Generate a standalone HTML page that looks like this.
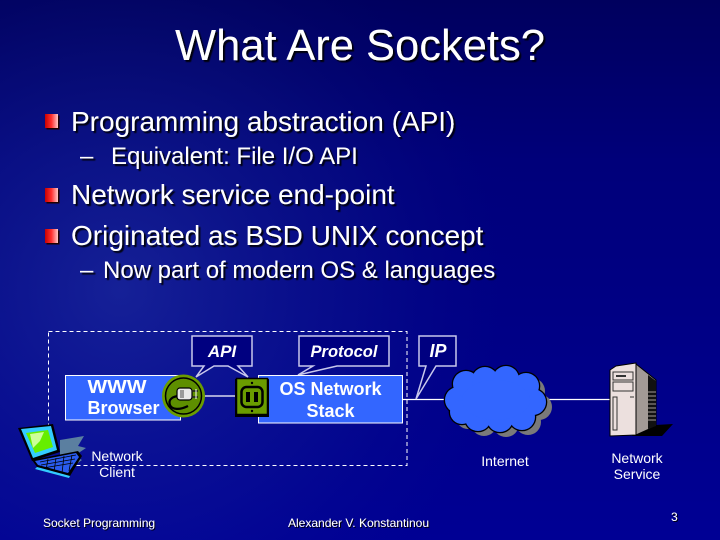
<!DOCTYPE html>
<html><head><meta charset="utf-8"><style>
html,body{margin:0;padding:0;width:720px;height:540px;overflow:hidden;background:#000080}
svg{display:block}
text{font-family:"Liberation Sans",Arial,sans-serif}
</style></head><body>
<svg width="720" height="540" viewBox="0 0 720 540" xmlns="http://www.w3.org/2000/svg">
<defs>
  <linearGradient id="bg" x1="0" y1="0" x2="0" y2="1">
    <stop offset="0" stop-color="#00005e"/>
    <stop offset="0.3" stop-color="#00007a"/>
    <stop offset="1" stop-color="#000094"/>
  </linearGradient>
  <radialGradient id="glow" cx="120" cy="290" r="420" gradientUnits="userSpaceOnUse">
    <stop offset="0" stop-color="#3048b0" stop-opacity="0.45"/>
    <stop offset="0.6" stop-color="#2038a0" stop-opacity="0.15"/>
    <stop offset="1" stop-color="#000080" stop-opacity="0"/>
  </radialGradient>
  <linearGradient id="bul" x1="0" y1="0" x2="1" y2="0">
    <stop offset="0" stop-color="#c80000"/>
    <stop offset="0.5" stop-color="#ff3030"/>
    <stop offset="1" stop-color="#ffc8c8"/>
  </linearGradient>
  <filter id="sh" x="-5%" y="-20%" width="110%" height="140%">
    <feDropShadow dx="2" dy="2" stdDeviation="0.4" flood-color="#000" flood-opacity="0.9"/>
  </filter>
  <filter id="sh1" x="-5%" y="-20%" width="110%" height="140%">
    <feDropShadow dx="1" dy="1" stdDeviation="0" flood-color="#000" flood-opacity="0.9"/>
  </filter>
</defs>

<rect width="720" height="540" fill="url(#bg)"/>
<rect width="720" height="540" fill="url(#glow)"/>

<!-- Title -->
<text x="360" y="60" font-size="43.5" fill="#fff" text-anchor="middle" filter="url(#sh)">What Are Sockets?</text>

<!-- Bullets -->
<g fill="#200000">
  <rect x="46.5" y="115.5" width="13" height="14"/>
  <rect x="46.5" y="189.5" width="13" height="14"/>
  <rect x="46.5" y="230.5" width="13" height="14"/>
</g>
<g fill="url(#bul)">
  <rect x="45" y="114" width="13" height="14"/>
  <rect x="45" y="188" width="13" height="14"/>
  <rect x="45" y="229" width="13" height="14"/>
</g>
<g fill="#fff" filter="url(#sh)">
  <text x="71" y="131" font-size="28">Programming abstraction (API)</text>
  <text x="80" y="164" font-size="24">–</text>
  <text x="111" y="164" font-size="24">Equivalent: File I/O API</text>
  <text x="71" y="204" font-size="28">Network service end-point</text>
  <text x="71" y="245" font-size="28">Originated as BSD UNIX concept</text>
  <text x="80" y="278" font-size="24">–</text>
  <text x="103" y="278" font-size="24">Now part of modern OS &amp; languages</text>
</g>

<!-- Dashed client box -->
<rect x="48.5" y="331.5" width="358.5" height="134" fill="none" stroke="#fff" stroke-width="1" stroke-dasharray="4 3"/>

<!-- Connector lines -->
<g stroke="#fff" stroke-width="1.2">
  <line x1="203" y1="396" x2="235" y2="396"/>
  <line x1="403" y1="399.5" x2="447" y2="399.5"/>
  <line x1="545" y1="399.5" x2="612" y2="399.5"/>
</g>

<!-- Callouts -->
<g fill="#000080" stroke="#c8c8ec" stroke-width="1.5" stroke-linejoin="miter">
  <path d="M192,336 H252 V366 H238 L248,377 L228,366 H214 L196,377 L204,366 H192 Z"/>
  <path d="M299,336 H389 V366 H337 L298,375 L313,366 H299 Z"/>
  <path d="M419,336 H456 V366 H436 L416,399 L426,366 H419 Z"/>
</g>
<g fill="#fff" font-weight="bold" font-style="italic" text-anchor="middle">
  <text x="222" y="357" font-size="17">API</text>
  <text x="344" y="357" font-size="16.5">Protocol</text>
  <text x="438" y="357" font-size="18">IP</text>
</g>

<!-- WWW Browser box -->
<rect x="65.5" y="375.5" width="115" height="44.5" fill="#3366ff" stroke="#fff" stroke-width="1"/>
<g fill="#fff" font-weight="bold" text-anchor="middle" font-size="18">
  <text x="117" y="393" textLength="59" lengthAdjust="spacingAndGlyphs">WWW</text>
  <text x="123.5" y="414">Browser</text>
</g>

<!-- OS Network Stack box -->
<rect x="258.5" y="375.5" width="144" height="47.5" fill="#3366ff" stroke="#fff" stroke-width="1"/>
<g fill="#fff" font-weight="bold" text-anchor="middle" font-size="18">
  <text x="330.5" y="395">OS Network</text>
  <text x="330.5" y="417">Stack</text>
</g>

<!-- Plug -->
<circle cx="183.5" cy="396" r="21.5" fill="#6a9c00"/>
<circle cx="183.5" cy="396" r="18" fill="#5e8f00" stroke="#000" stroke-width="1.5"/>
<path d="M180,396 C172,396 168,400 170,405 C172,410 180,410 188,406" fill="none" stroke="#000" stroke-width="2.2"/>
<rect x="177" y="388" width="15" height="12" rx="3" fill="#e8e8e8" stroke="#000" stroke-width="1.2"/>
<rect x="180" y="390" width="4" height="8" fill="#9a9a9a"/>
<line x1="192" y1="391" x2="198" y2="391" stroke="#222" stroke-width="1.6"/>
<line x1="192" y1="397" x2="198" y2="397" stroke="#222" stroke-width="1.6"/>
<line x1="196" y1="389" x2="196" y2="399" stroke="#fff" stroke-width="1"/>

<!-- Socket -->
<rect x="235" y="379" width="34" height="38" fill="#000"/>
<rect x="236.5" y="378.5" width="31" height="36" fill="#6a9c00" stroke="#000" stroke-width="1.5"/>
<rect x="241.5" y="387" width="21" height="20" rx="5" fill="#6a9c00" stroke="#000" stroke-width="2.5"/>
<rect x="246" y="392" width="4" height="10" fill="#000"/>
<rect x="254" y="392" width="4" height="10" fill="#000"/>
<circle cx="252" cy="383" r="1.2" fill="#000"/>
<circle cx="252" cy="411" r="1.2" fill="#000"/>

<!-- Cloud shadow -->
<g fill="#7a7a7a" transform="translate(6,5)">
  <circle cx="458" cy="400" r="13"/><circle cx="466" cy="384" r="13"/>
  <circle cx="485" cy="380" r="13"/><circle cx="506" cy="379" r="13"/>
  <circle cx="526" cy="386" r="13"/><circle cx="533" cy="402" r="13"/>
  <circle cx="522" cy="417" r="13"/><circle cx="500" cy="419" r="13"/>
  <circle cx="478" cy="418" r="13"/><circle cx="462" cy="412" r="12"/>
  <ellipse cx="496" cy="400" rx="34" ry="20"/>
</g>
<!-- Cloud outline -->
<g fill="#000">
  <circle cx="458" cy="400" r="14.3"/><circle cx="466" cy="384" r="14.3"/>
  <circle cx="485" cy="380" r="14.3"/><circle cx="506" cy="379" r="14.3"/>
  <circle cx="526" cy="386" r="14.3"/><circle cx="533" cy="402" r="14.3"/>
  <circle cx="522" cy="417" r="14.3"/><circle cx="500" cy="419" r="14.3"/>
  <circle cx="478" cy="418" r="14.3"/><circle cx="462" cy="412" r="13.3"/>
</g>
<g fill="#3366ff">
  <circle cx="458" cy="400" r="13"/><circle cx="466" cy="384" r="13"/>
  <circle cx="485" cy="380" r="13"/><circle cx="506" cy="379" r="13"/>
  <circle cx="526" cy="386" r="13"/><circle cx="533" cy="402" r="13"/>
  <circle cx="522" cy="417" r="13"/><circle cx="500" cy="419" r="13"/>
  <circle cx="478" cy="418" r="13"/><circle cx="462" cy="412" r="12"/>
  <ellipse cx="496" cy="400" rx="34" ry="20"/>
</g>

<!-- Server -->
<polygon points="638,426 673,424 662,436 632,436" fill="#000"/>
<polygon points="636,364 656,380 656,426 636,435" fill="#a29a96" stroke="#000" stroke-width="1"/>
<polygon points="648,375 656,381 656,426 648,429" fill="#111"/>
<g stroke="#a29a96" stroke-width="1">
  <line x1="648" y1="392" x2="656" y2="392"/><line x1="648" y1="396" x2="656" y2="396"/>
  <line x1="648" y1="400" x2="656" y2="400"/><line x1="648" y1="404" x2="656" y2="404"/>
  <line x1="648" y1="408" x2="656" y2="408"/><line x1="648" y1="412" x2="656" y2="412"/>
  <line x1="648" y1="416" x2="656" y2="416"/><line x1="648" y1="420" x2="656" y2="420"/>
</g>
<polygon points="610,370 616,366 636,363 636,435 610,436" fill="#ece0de" stroke="#000" stroke-width="1"/>
<rect x="613" y="372" width="20" height="8" fill="none" stroke="#333" stroke-width="1"/>
<rect x="613" y="382" width="20" height="9" fill="none" stroke="#333" stroke-width="1"/>
<rect x="616" y="375" width="10" height="2" fill="#333"/>
<rect x="613" y="397" width="4" height="33" fill="none" stroke="#333" stroke-width="1"/>
<line x1="630" y1="397" x2="634" y2="397" stroke="#333"/>

<!-- Laptop -->
<g>
  <path d="M60,440 L84,436 L78,446 L86,448 L74,456 L82,460 L68,470 L60,466 Z" fill="#5b7fa0"/>
  <polygon points="18,428 53,424 60,452 32,461" fill="#000"/>
  <polygon points="21,429 51,426 57,450 33,458" fill="#33ccff"/>
  <polygon points="26,433 48,430 53,447 35,453" fill="#66ee00"/>
  <polygon points="30,434 44,432 40,441 33,448" fill="#ccff99"/>
  <polygon points="32,460 78,451 82,456 70,476 37,467" fill="#000"/>
  <polygon points="35,461 76,453 79,457 68,473 38,465" fill="#2a5cf0"/>
  <g stroke="#000" stroke-width="0.8">
    <line x1="40" y1="462" x2="76" y2="455"/>
    <line x1="41" y1="465" x2="75" y2="459"/>
    <line x1="43" y1="468" x2="73" y2="463"/>
    <line x1="48" y1="459" x2="46" y2="470"/>
    <line x1="56" y1="458" x2="54" y2="472"/>
    <line x1="64" y1="456" x2="62" y2="473"/>
    <line x1="72" y1="455" x2="69" y2="471"/>
  </g>
  <polygon points="37,467 70,476 69,478 35,469" fill="#33ccff"/>
</g>

<!-- Diagram labels -->
<g fill="#fff" font-size="14" text-anchor="middle">
  <text x="117" y="461">Network</text>
  <text x="117" y="477">Client</text>
  <text x="505" y="466">Internet</text>
  <text x="637" y="463">Network</text>
  <text x="637" y="479">Service</text>
</g>

<!-- Footer -->
<g fill="#fff" font-size="12" filter="url(#sh1)">
  <text x="43" y="527">Socket Programming</text>
  <text x="288" y="527">Alexander V. Konstantinou</text>
  <text x="671" y="521">3</text>
</g>
</svg>
</body></html>
